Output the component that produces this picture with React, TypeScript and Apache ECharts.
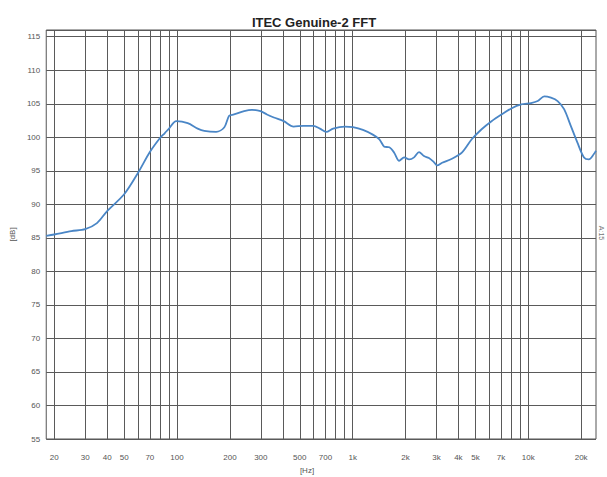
import React, { useEffect, useRef } from "react";
import * as echarts from "echarts";

const freqs = [18, 20, 25, 30, 35, 40, 50, 60, 70, 80, 85, 90, 99, 115, 131, 143, 167, 186, 198, 211, 241, 267, 299, 325, 356, 405, 461, 524, 597, 651, 707, 774, 901, 1004, 1144, 1302, 1420, 1514, 1616, 1724, 1840, 1964, 2096, 2237, 2387, 2547, 2718, 2900, 3028, 3231, 3677, 4186, 4765, 5424, 6176, 7031, 8004, 9114, 10376, 11320, 12332, 13458, 14690, 15996, 17460, 19050, 20760, 22140, 23640, 24300];
const levels = [85.3, 85.5, 86.0, 86.3, 87.2, 89.0, 91.5, 94.7, 97.8, 99.9, 100.6, 101.3, 102.4, 102.1, 101.3, 100.95, 100.8, 101.5, 103.2, 103.4, 103.9, 104.1, 103.9, 103.4, 102.95, 102.4, 101.6, 101.7, 101.7, 101.3, 100.8, 101.3, 101.6, 101.5, 101.1, 100.4, 99.7, 98.6, 98.5, 97.7, 96.5, 97.0, 96.7, 97.0, 97.8, 97.2, 96.9, 96.3, 95.8, 96.2, 96.8, 97.7, 99.7, 101.2, 102.4, 103.4, 104.3, 104.9, 105.1, 105.4, 106.1, 105.9, 105.4, 104.2, 101.7, 99.2, 97.0, 96.7, 97.5, 98.0];

const labelFreqs = [20, 30, 40, 50, 70, 100, 200, 300, 500, 700, 1000, 2000, 3000, 4000, 5000, 7000, 10000, 20000];
const gridFreqs = [20, 30, 40, 50, 60, 70, 80, 90, 100, 200, 300, 400, 500, 600, 700, 800, 900, 1000, 2000, 3000, 4000, 5000, 6000, 7000, 8000, 9000, 10000, 20000];

const title = "ITEC Genuine-2 FFT";

export default function App() {
  const ref = useRef<HTMLDivElement>(null);
  useEffect(() => {
    const chart = echarts.init(ref.current!, undefined, { renderer: "svg" });
    const fmt = (v: number) => (v >= 1000 ? v / 1000 + "k" : String(v));
    chart.setOption({
      animation: false,
      backgroundColor: "#ffffff",
      title: {
        text: title,
        left: 309,
        top: 11,
        textAlign: "center",
        textStyle: { fontFamily: "Liberation Sans", fontSize: 13, fontWeight: "bold", color: "#222" },
      },
      grid: { left: 40, right: 11, top: 30, bottom: 38, show: true, borderColor: "#555", borderWidth: 1, backgroundColor: "transparent" },
      xAxis: {
        type: "log",
        min: 18,
        max: 24300,
        axisLine: { show: false },
        axisTick: { show: false, customValues: gridFreqs },
        splitLine: { show: true, lineStyle: { color: "#5a5a5a", width: 1 } },
        axisLabel: {
          customValues: labelFreqs,
          formatter: fmt,
          fontFamily: "Liberation Sans",
          fontSize: 8,
          color: "#555",
          margin: 14,
        },
      },
      yAxis: {
        type: "value",
        min: 55,
        max: 116,
        interval: 5,
        axisLine: { show: false },
        axisTick: { show: false },
        splitLine: { show: true, lineStyle: { color: "#5a5a5a", width: 1 } },
        axisLabel: {
          fontFamily: "Liberation Sans",
          fontSize: 8,
          color: "#555",
          margin: 6,
          showMaxLabel: false,
        },
        name: "[dB]",
        nameLocation: "middle",
        nameGap: 27,
        nameRotate: 90,
        nameTextStyle: { fontFamily: "Liberation Sans", fontSize: 8, color: "#555" },
      },
      graphic: [
        { type: "text", x: 307, y: 470, style: { text: "[Hz]", fontFamily: "Liberation Sans", fontSize: 8, fill: "#555", align: "center", verticalAlign: "middle" } },
        { type: "text", x: 601, y: 233, rotation: -Math.PI / 2, style: { text: "A:15", fontFamily: "Liberation Sans", fontSize: 7, fill: "#777", align: "center", verticalAlign: "middle" } },
      ],
      series: [
        {
          type: "line",
          data: freqs.map((f, i) => [f, levels[i]]),
          smooth: 0.3,
          showSymbol: false,
          lineStyle: { color: "#4a86c6", width: 1.8 },
          clip: true,
        },
      ],
    });
    return () => chart.dispose();
  }, []);
  return <div ref={ref} style={{ width: 607, height: 477, position: "absolute", left: 0, top: 0 }} />;
}
